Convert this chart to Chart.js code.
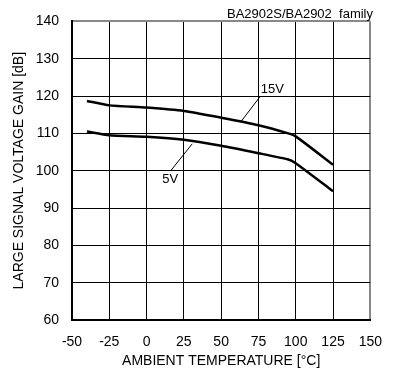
<!DOCTYPE html>
<html>
<head>
<meta charset="utf-8">
<script src="https://cdn.jsdelivr.net/npm/chart.js@4/dist/chart.umd.min.js"></script>
<style>
  html, body { margin: 0; padding: 0; background: #fff; }
  #wrap { width: 396px; height: 376px; }
</style>
</head>
<body>
<div id="wrap"><canvas id="grafico" width="396" height="376"></canvas></div>
<script>
// temperatura (°C) e ganho (dB)
var temp15 = [-40, -25, 0, 25, 50, 75, 95, 100, 125];
var gain15 = [118.7, 117.5, 116.9, 116.0, 114.2, 112.2, 110.0, 109.2, 101.6];
var temp5 = [-40, -25, 0, 25, 50, 75, 95, 100, 125];
var gain5 = [110.5, 109.5, 109.1, 108.3, 106.7, 104.7, 103.0, 102.0, 94.5];

// linhas de chamada e rotulos
var leader15 = [[63.2, 113.1], [76, 119.8]];
var leader5 = [[30.6, 107.2], [16.2, 100.0]];
var rotulos = [
    { text: '15V', x: 76.5, y: 121.9, align: 'left' },
    { text: '5V', x: 15.8, y: 97.6, align: 'center' }
];

var xTicks = [-50, -25, 0, 25, 50, 75, 100, 125, 150];
var yTicks = [60, 70, 80, 90, 100, 110, 120, 130, 140];

function pontos(xs, ys) {
    return xs.map(function (x, i) { return { x: x, y: ys[i] }; });
}
function pares(arr) {
    return arr.map(function (p) { return { x: p[0], y: p[1] }; });
}

var fonte = "'Liberation Sans', Arial, sans-serif";

var rotuloPlugin = {
    id: 'rotulos',
    afterDatasetsDraw: function (chart) {
        var c = chart.ctx;
        var sx = chart.scales.x, sy = chart.scales.y;
        c.save();
        c.fillStyle = '#000';
        c.font = '13px ' + fonte;
        c.textBaseline = 'middle';
        rotulos.forEach(function (r) {
            c.textAlign = r.align;
            c.fillText(r.text, sx.getPixelForValue(r.x), sy.getPixelForValue(r.y));
        });
        c.restore();
    }
};

var ctx = document.getElementById('grafico').getContext('2d');

var grafico = new Chart(ctx, {
    type: 'line',
    data: {
        datasets: [{
            label: '15V',
            data: pontos(temp15, gain15),
            borderColor: '#000',
            borderWidth: 2.5,
            pointRadius: 0,
            tension: 0.2
        }, {
            label: '5V',
            data: pontos(temp5, gain5),
            borderColor: '#000',
            borderWidth: 2.5,
            pointRadius: 0,
            tension: 0.2
        }, {
            label: 'l15',
            data: pares(leader15),
            borderColor: '#000',
            borderWidth: 1,
            pointRadius: 0
        }, {
            label: 'l5',
            data: pares(leader5),
            borderColor: '#000',
            borderWidth: 1,
            pointRadius: 0
        }]
    },
    options: {
        responsive: false,
        animation: false,
        layout: { padding: { top: 0, right: 23, bottom: 0, left: 0 } },
        plugins: {
            legend: { display: false },
            tooltip: { enabled: false },
            title: {
                display: true,
                text: 'BA2902S/BA2902  family',
                align: 'end',
                color: '#000',
                font: { family: fonte, size: 13, weight: 'normal', lineHeight: 1 },
                padding: { top: 6, bottom: 0 }
            }
        },
        scales: {
            x: {
                type: 'linear',
                min: -50,
                max: 150,
                afterBuildTicks: function (s) { s.ticks = xTicks.map(function (v) { return { value: v }; }); },
                afterFit: function (s) { s.height = 56; },
                ticks: { color: '#000', font: { family: fonte, size: 14 }, padding: 14, maxRotation: 0 },
                grid: {
                    drawTicks: false,
                    color: function (c) { return c.tick && c.tick.value === 150 ? '#888' : '#000'; },
                    lineWidth: function (c) { return c.tick && c.tick.value === 150 ? 2 : 1; }
                },
                border: { color: '#000', width: 2 },
                title: {
                    display: true,
                    text: 'AMBIENT TEMPERATURE [°C]',
                    color: '#000',
                    font: { family: fonte, size: 14 },
                    padding: { top: 0, bottom: 6.5 }
                }
            },
            y: {
                min: 60,
                max: 140,
                afterBuildTicks: function (s) { s.ticks = yTicks.map(function (v) { return { value: v }; }); },
                afterFit: function (s) { s.width = 72; },
                ticks: { color: '#000', font: { family: fonte, size: 14 }, padding: 13 },
                grid: {
                    drawTicks: false,
                    color: function (c) { return c.tick && c.tick.value === 140 ? '#888' : '#000'; },
                    lineWidth: function (c) { return c.tick && c.tick.value === 140 ? 2 : 1; }
                },
                border: { color: '#000', width: 2 },
                title: {
                    display: true,
                    text: 'LARGE SIGNAL VOLTAGE GAIN [dB]',
                    color: '#000',
                    font: { family: fonte, size: 14 },
                    padding: { top: 11, bottom: 0 }
                }
            }
        }
    },
    plugins: [rotuloPlugin]
});
</script>
</body>
</html>
